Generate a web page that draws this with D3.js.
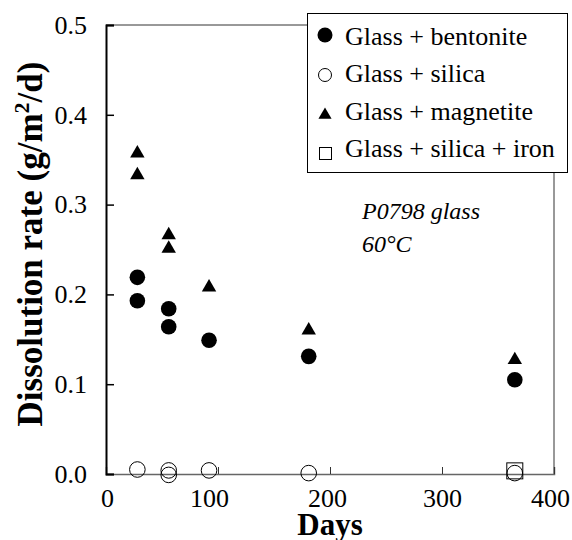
<!DOCTYPE html>
<html>
<head>
<meta charset="utf-8">
<script src="https://cdn.jsdelivr.net/npm/d3@7"></script>
<style>
  html, body { margin: 0; padding: 0; background: #fff; }
  svg text { fill: #000; }
</style>
</head>
<body>
<svg id="chart" width="572" height="540"></svg>
<script>
// Dissolution rate of P0798 glass at 60°C, by additive
const bentoniteDays = [28, 28, 56, 56, 92, 181, 365];
const bentoniteRate = [0.219, 0.193, 0.184, 0.164, 0.149, 0.131, 0.105];

const silicaDays = [28, 56, 56, 92, 181, 365];
const silicaRate = [0.005, 0.004, -0.001, 0.004, 0.001, 0.001];

const magnetiteDays = [28, 28, 56, 56, 92, 181, 365];
const magnetiteRate = [0.357, 0.333, 0.266, 0.251, 0.208, 0.160, 0.127];

const silicaIronDays = [365];
const silicaIronRate = [0.0035];

const xTicks = [0, 100, 200, 300, 400];
const yTicks = [0.0, 0.1, 0.2, 0.3, 0.4, 0.5];

const legendLabels = ["Glass + bentonite", "Glass + silica", "Glass + magnetite", "Glass + silica + iron"];

const SERIF = "'Liberation Serif', 'Times New Roman', Times, serif";
// small horizontal nudges for the day labels (px)
const xLabelNudge = { 0: 1, 100: -9, 200: -3, 300: 0, 400: -4 };

const svg = d3.select("#chart");
const x = d3.scaleLinear().domain([0, 400]).range([106, 554]);
const y = d3.scaleLinear().domain([0, 0.5]).range([474, 25]);

// frame: top and right edges
svg.append("line").attr("x1", x(0)).attr("x2", x(400)).attr("y1", y(0.5)).attr("y2", y(0.5))
  .attr("stroke", "#333").attr("stroke-width", 1);
svg.append("line").attr("x1", x(400)).attr("x2", x(400)).attr("y1", y(0.5)).attr("y2", y(0))
  .attr("stroke", "#333").attr("stroke-width", 1);

// x axis (ticks pointing up into the plot)
const xAxis = svg.append("g").attr("transform", `translate(0,${y(0)})`)
  .call(d3.axisBottom(x).tickValues(xTicks).tickSize(-7).tickPadding(15).tickFormat(d3.format("d")));
xAxis.attr("font-family", SERIF);
xAxis.select(".domain").attr("stroke", "#666").attr("stroke-width", 1.5);
xAxis.selectAll(".tick line").attr("stroke", "#333");
xAxis.selectAll(".tick text").attr("font-size", 26).style("font-family", SERIF)
  .attr("dy", "0.71em").attr("dx", d => xLabelNudge[d] || 0);

// y axis (ticks pointing right into the plot)
const yAxis = svg.append("g").attr("transform", `translate(${x(0)},0)`)
  .call(d3.axisLeft(y).tickValues(yTicks).tickSize(-8).tickPadding(19).tickFormat(d3.format(".1f")));
yAxis.attr("font-family", SERIF);
yAxis.select(".domain").attr("stroke", "#000").attr("stroke-width", 2);
yAxis.selectAll(".tick line").attr("stroke", "#000").attr("stroke-width", 1.5);
yAxis.selectAll(".tick text").attr("font-size", 26).style("font-family", SERIF);

// axis titles
svg.append("text").attr("x", 330).attr("y", 535).attr("text-anchor", "middle")
  .style("font-family", SERIF).attr("font-size", 31).attr("font-weight", "bold").text("Days");

const yTitle = svg.append("text").attr("transform", "translate(42,244) rotate(-90)")
  .style("font-family", SERIF).attr("text-anchor", "middle").attr("font-size", 35).attr("font-weight", "bold");
yTitle.append("tspan").text("Dissolution rate (g/m");
yTitle.append("tspan").attr("font-size", 22).attr("dy", -13).text("2");
yTitle.append("tspan").attr("dy", 13).text("/d)");

// data marks
const plot = svg.append("g");
const zip = (a, b) => a.map((d, i) => [d, b[i]]);

plot.selectAll("circle.bent").data(zip(bentoniteDays, bentoniteRate)).join("circle")
  .attr("class", "bent").attr("cx", d => x(d[0])).attr("cy", d => y(d[1])).attr("r", 7.8)
  .attr("fill", "#000");

plot.selectAll("path.mag").data(zip(magnetiteDays, magnetiteRate)).join("path")
  .attr("class", "mag").attr("d", d3.symbol(d3.symbolTriangle, 90))
  .attr("transform", d => `translate(${x(d[0])},${y(d[1])})`).attr("fill", "#000");

plot.selectAll("rect.fe").data(zip(silicaIronDays, silicaIronRate)).join("rect")
  .attr("class", "fe").attr("x", d => x(d[0]) - 8).attr("y", d => y(d[1]) - 8)
  .attr("width", 16).attr("height", 16).attr("fill", "none").attr("stroke", "#000").attr("stroke-width", 1);

plot.selectAll("circle.sil").data(zip(silicaDays, silicaRate)).join("circle")
  .attr("class", "sil").attr("cx", d => x(d[0])).attr("cy", d => y(d[1])).attr("r", 7.8)
  .attr("fill", "none").attr("stroke", "#000").attr("stroke-width", 1);

// annotation
svg.append("text").attr("x", 362).attr("y", 219).style("font-family", SERIF)
  .attr("font-size", 24).attr("font-style", "italic").text("P0798 glass");
svg.append("text").attr("x", 362).attr("y", 252).style("font-family", SERIF)
  .attr("font-size", 24).attr("font-style", "italic").text("60°C");

// legend
const lg = svg.append("g");
lg.append("rect").attr("x", 307.5).attr("y", 13.5).attr("width", 260).attr("height", 159)
  .attr("fill", "#fff").attr("stroke", "#000").attr("stroke-width", 1);
const rowY = [45, 82, 120, 157];
const rows = lg.selectAll("g.row").data(legendLabels).join("g").attr("class", "row");
rows.append("text").attr("x", 345).attr("y", (d, i) => rowY[i]).style("font-family", SERIF)
  .attr("font-size", 26).text(d => d);

lg.append("circle").attr("cx", 325).attr("cy", rowY[0] - 10).attr("r", 7.5).attr("fill", "#000");
lg.append("circle").attr("cx", 325).attr("cy", rowY[1] - 7).attr("r", 6.5)
  .attr("fill", "none").attr("stroke", "#000").attr("stroke-width", 1);
lg.append("path").attr("d", d3.symbol(d3.symbolTriangle, 75))
  .attr("transform", `translate(325,${rowY[2] - 5})`).attr("fill", "#000");
lg.append("rect").attr("x", 319.5).attr("y", rowY[3] - 9.5).attr("width", 12).attr("height", 12)
  .attr("fill", "none").attr("stroke", "#000").attr("stroke-width", 1);
</script>
</body>
</html>
